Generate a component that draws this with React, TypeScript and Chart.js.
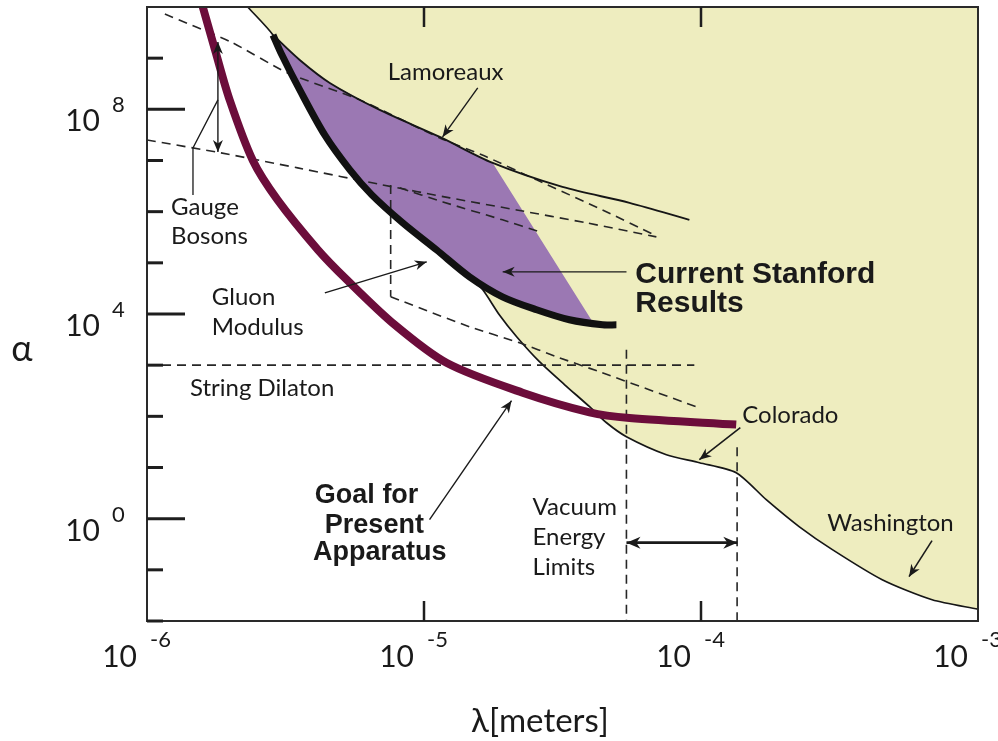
import React, { useEffect, useRef } from 'react';
import { Chart, registerables } from 'chart.js';

Chart.register(...registerables);

// ---------------- data (λ in metres, α dimensionless) ----------------
// Goal for present apparatus (maroon)
const goalLambda = [1.59e-6, 1.76e-6, 1.99e-6, 2.41e-6, 2.96e-6, 4.14e-6, 5.26e-6, 7.83e-6, 1.21e-5, 2.27e-5, 3.96e-5, 5.52e-5, 1.34e-4];
const goalAlpha = [1e10, 1.45e9, 1.5e8, 1.0e7, 1.7e6, 1.8e5, 4.7e4, 6.2e3, 1.1e3, 290, 120, 93, 69];

// Current Stanford results (thick black lower edge)
const stanfordLambda = [2.85e-6, 3.07e-6, 3.56e-6, 4.38e-6, 5.4e-6, 6.48e-6, 8.38e-6, 1.11e-5, 1.46e-5, 1.92e-5, 2.55e-5, 3.35e-5, 4.41e-5, 4.95e-5];
const stanfordAlpha = [2.84e9, 1.15e9, 2.39e8, 3.16e7, 6.55e6, 2.13e6, 6.04e5, 1.79e5, 5.33e4, 2.17e4, 1.21e4, 7.71e3, 6.15e3, 6.15e3];

// Upper edge of the Stanford region (Lamoreaux, then the right edge)
const stanfordTopLambda = [2.85e-6, 3.56e-6, 4.57e-6, 6.92e-6, 1.14e-5, 1.77e-5, 4.06e-5];
const stanfordTopAlpha = [2.84e9, 9.22e8, 3.28e8, 9.73e7, 2.89e7, 8.98e6, 7.04e3];

// Lamoreaux limit
const lamoreauxLambda = [2.85e-6, 3.56e-6, 4.57e-6, 6.92e-6, 1.14e-5, 1.77e-5, 3.16e-5, 5.52e-5, 9.08e-5];
const lamoreauxAlpha = [2.84e9, 9.22e8, 3.28e8, 9.73e7, 2.89e7, 8.98e6, 3.05e6, 1.49e6, 6.92e5];

// Excluded region boundary (Lamoreaux / Stanford / Colorado / Washington)
const excludedLambda = [2.31e-6, 2.85e-6, 3.07e-6, 3.56e-6, 4.38e-6, 5.4e-6, 6.48e-6, 8.38e-6, 1.11e-5, 1.46e-5, 1.63e-5, 1.87e-5, 2.16e-5, 2.61e-5, 3.22e-5, 3.96e-5, 4.56e-5, 5.38e-5, 7.5e-5, 9.87e-5, 1.34e-4, 1.72e-4, 2.26e-4, 2.98e-4, 4.51e-4, 6.83e-4, 1e-3];
const excludedAlpha = [1e10, 2.84e9, 1.15e9, 2.39e8, 3.16e7, 6.55e6, 2.13e6, 6.04e5, 1.79e5, 5.33e4, 2.97e4, 9.65e3, 3.59e3, 1.17e3, 414, 154, 75, 40, 17.8, 12.4, 7.9, 2.35, 0.7, 0.248, 0.064, 0.026, 0.017];

// Theory lines (dashed)
const dilatonLambda = [1e-6, 9.46e-5];
const dilatonAlpha = [1e3, 1e3];
const vacuumLowLambda = [5.38e-5, 5.38e-5];
const vacuumLowAlpha = [2.0e3, 1e-2];
const vacuumHighLambda = [1.35e-4, 1.35e-4];
const vacuumHighAlpha = [25, 1e-2];
const gluonEdgeLambda = [7.58e-6, 7.58e-6];
const gluonEdgeAlpha = [3.33e6, 2.17e4];
const gluonLowLambda = [7.58e-6, 1.46e-5, 2.21e-5, 3.01e-5, 4.3e-5, 9.62e-5];
const gluonLowAlpha = [2.17e4, 5.62e3, 2.74e3, 1.46e3, 743, 154];
const gluonHighLambda = [8.17e-6, 1.17e-5, 1.92e-5, 2.68e-5];
const gluonHighAlpha = [2.92e6, 1.55e6, 6.92e5, 3.85e5];
const gaugeLowLambda = [1e-6, 1.85e-6, 3.5e-6, 7.1e-6, 1.24e-5, 2.16e-5, 3.86e-5, 6.9e-5];
const gaugeLowAlpha = [2.52e7, 1.41e7, 7.17e6, 3.33e6, 1.86e6, 1.08e6, 6.04e5, 3.22e5];
const gaugeHighLambda = [1.16e-6, 2.01e-6, 3.22e-6, 5.86e-6, 1.14e-5, 1.68e-5, 2.55e-5, 4.41e-5, 6.79e-5];
const gaugeHighAlpha = [7.3e9, 2.07e9, 5.14e8, 1.53e8, 2.76e7, 1.18e7, 4.18e6, 1.08e6, 3.52e5];

// Axis ticks (decade exponents)
const yTickExponents = [-2, -1, 0, 1, 2, 3, 4, 5, 6, 7, 8, 9];
const yLabelExponents = [0, 4, 8];
const xLabelExponents = [-6, -5, -4, -3];
const xInnerTickExponents = [-5, -4];

// Annotations, anchored in log10(λ), log10(α)
const REG = '24px Lato, "Liberation Sans", sans-serif';
const BOLD_BIG = 'bold 30px "Liberation Sans", Arial, sans-serif';
const BOLD_MID = 'bold 27px "Liberation Sans", Arial, sans-serif';
const textLabels = [
  { text: 'Lamoreaux', at: [-5.131, 8.574], font: REG },
  { text: 'Gauge', at: [-5.913, 5.9375], font: REG },
  { text: 'Bosons', at: [-5.913, 5.371], font: REG },
  { text: 'Gluon', at: [-5.766, 4.18], font: REG },
  { text: 'Modulus', at: [-5.766, 3.594], font: REG },
  { text: 'String Dilaton', at: [-5.845, 2.402], font: REG },
  { text: 'Current Stanford', at: [-4.237, 4.609], font: BOLD_BIG },
  { text: 'Results', at: [-4.237, 4.043], font: BOLD_BIG },
  { text: 'Goal for', at: [-5.394, 0.3125], font: BOLD_MID },
  { text: 'Present', at: [-5.358, -0.273], font: BOLD_MID },
  { text: 'Apparatus', at: [-5.401, -0.801], font: BOLD_MID },
  { text: 'Vacuum', at: [-4.608, 0.078], font: REG },
  { text: 'Energy', at: [-4.608, -0.508], font: REG },
  { text: 'Limits', at: [-4.608, -1.094], font: REG },
  { text: 'Colorado', at: [-3.851, 1.875], font: REG },
  { text: 'Washington', at: [-3.544, -0.234], font: REG },
];
const arrows = [
  { from: [-4.806, 8.418], to: [-4.933, 7.461], both: false, width: 1.4 },
  { from: [-5.358, 4.414], to: [-4.99, 5.02], both: false, width: 1.4 },
  { from: [-4.269, 4.824], to: [-4.716, 4.824], both: false, width: 1.4 },
  { from: [-4.98, -0.0195], to: [-4.684, 2.305], both: false, width: 1.4 },
  { from: [-3.858, 1.777], to: [-4.006, 1.152], both: false, width: 1.6 },
  { from: [-3.166, -0.43], to: [-3.249, -1.133], both: false, width: 1.6 },
  { from: [-4.269, -0.469], to: [-3.869, -0.469], both: true, width: 2.6 },
  { from: [-5.744, 8.184], to: [-5.744, 7.168], both: false, width: 1.4 },
  { from: [-5.744, 8.184], to: [-5.744, 9.316], both: false, width: 1.4 },
];
const gaugeConnector = [[-5.834, 6.328], [-5.834, 7.246], [-5.744, 8.184]];

// ---------------- helpers ----------------
const toPoints = (xs: number[], ys: number[]) => xs.map((x, i) => ({ x, y: ys[i] }));

const lineSet = (xs: number[], ys: number[], extra: any) => ({
  data: toPoints(xs, ys),
  pointRadius: 0,
  pointHoverRadius: 0,
  borderColor: '#161616',
  borderWidth: 1.6,
  fill: false,
  tension: 0,
  clip: 0,
  ...extra,
});

const DASH = { borderDash: [9, 6], borderWidth: 1.6, borderColor: '#262626', order: 8 };

const overlayPlugin = {
  id: 'overlay',
  afterDatasetsDraw(chart: any) {
    const ctx = chart.ctx as CanvasRenderingContext2D;
    const { left, right, top, bottom } = chart.chartArea;
    const xs = chart.scales.x;
    const ys = chart.scales.y;
    const P = (a: number[]) => [xs.getPixelForValue(Math.pow(10, a[0])), ys.getPixelForValue(Math.pow(10, a[1]))];
    const seg = (x1: number, y1: number, x2: number, y2: number) => {
      ctx.beginPath();
      ctx.moveTo(x1, y1);
      ctx.lineTo(x2, y2);
      ctx.stroke();
    };
    const head = (x1: number, y1: number, x2: number, y2: number, len: number, half: number) => {
      const ang = Math.atan2(y2 - y1, x2 - x1);
      ctx.beginPath();
      ctx.moveTo(x2, y2);
      ctx.lineTo(x2 - len * Math.cos(ang) + half * Math.sin(ang), y2 - len * Math.sin(ang) - half * Math.cos(ang));
      ctx.lineTo(x2 - len * 0.7 * Math.cos(ang), y2 - len * 0.7 * Math.sin(ang));
      ctx.lineTo(x2 - len * Math.cos(ang) - half * Math.sin(ang), y2 - len * Math.sin(ang) + half * Math.cos(ang));
      ctx.closePath();
      ctx.fill();
    };

    ctx.save();
    ctx.lineCap = 'butt';
    // frame
    ctx.strokeStyle = '#2a2a2a';
    ctx.lineWidth = 2;
    ctx.strokeRect(left, top, right - left, bottom - top);

    // y ticks
    ctx.strokeStyle = '#1e1e1e';
    ctx.lineWidth = 3;
    yTickExponents.forEach((e) => {
      const y = ys.getPixelForValue(Math.pow(10, e));
      const major = yLabelExponents.indexOf(e) >= 0;
      seg(left, y, left + (major ? 38 : 16), y);
    });
    // x ticks (bottom up, top down)
    ctx.lineWidth = 2.5;
    xInnerTickExponents.forEach((e) => {
      const x = xs.getPixelForValue(Math.pow(10, e));
      seg(x, bottom, x, bottom - 20);
      seg(x, top, x, top + 20);
    });

    // tick labels
    ctx.fillStyle = '#1a1a1a';
    ctx.textBaseline = 'alphabetic';
    const baseFont = '30px Lato, "Liberation Sans", sans-serif';
    const expFont = '22px Lato, "Liberation Sans", sans-serif';
    yLabelExponents.forEach((e) => {
      const y = ys.getPixelForValue(Math.pow(10, e));
      ctx.font = baseFont;
      ctx.textAlign = 'right';
      ctx.fillText('10', left - 47, y + 22);
      ctx.font = expFont;
      ctx.textAlign = 'left';
      ctx.fillText(String(e), left - 35, y + 3);
    });
    xLabelExponents.forEach((e) => {
      const x = xs.getPixelForValue(Math.pow(10, e));
      ctx.font = baseFont;
      ctx.textAlign = 'right';
      ctx.fillText('10', x - 10, bottom + 46);
      ctx.font = expFont;
      ctx.textAlign = 'left';
      ctx.fillText(String(e), x + 3, bottom + 26);
    });

    // axis titles
    ctx.font = '33px Lato, "Noto Sans", "DejaVu Sans", sans-serif';
    ctx.textAlign = 'center';
    ctx.fillText('λ[meters]', left + 393, bottom + 111);
    ctx.font = '36px Lato, "Noto Sans", "DejaVu Sans", sans-serif';
    ctx.fillText('α', 22, ys.getPixelForValue(1e3) - 4);

    // annotation texts
    ctx.textAlign = 'left';
    textLabels.forEach((t) => {
      const [x, y] = P(t.at);
      ctx.font = t.font;
      ctx.fillText(t.text, x, y);
    });

    // arrows
    ctx.strokeStyle = '#1a1a1a';
    arrows.forEach((a) => {
      const [x1, y1] = P(a.from);
      const [x2, y2] = P(a.to);
      ctx.lineWidth = a.width;
      const big = a.width > 2;
      seg(x1, y1, x2, y2);
      head(x1, y1, x2, y2, big ? 14 : 12, big ? 6 : 5);
      if (a.both) head(x2, y2, x1, y1, big ? 14 : 12, big ? 6 : 5);
    });
    // gauge bosons connector
    ctx.lineWidth = 1.3;
    ctx.beginPath();
    gaugeConnector.forEach((pt, i) => {
      const [x, y] = P(pt);
      if (i === 0) ctx.moveTo(x, y);
      else ctx.lineTo(x, y);
    });
    ctx.stroke();

    ctx.restore();
  },
};

export default function App() {
  const canvasRef = useRef<HTMLCanvasElement | null>(null);

  useEffect(() => {
    const canvas = canvasRef.current;
    if (!canvas) return;
    const chart = new Chart(canvas, {
      type: 'line',
      data: {
        datasets: [
          lineSet(excludedLambda, excludedAlpha, {
            label: 'Excluded region',
            fill: 'end',
            backgroundColor: '#eeedbf',
            borderWidth: 1.7,
            tension: 0.25,
            order: 20,
          }),
          lineSet(stanfordTopLambda, stanfordTopAlpha, {
            label: 'Current Stanford Results',
            fill: 2,
            backgroundColor: '#9b78b3',
            borderColor: 'rgba(0,0,0,0)',
            borderWidth: 0,
            order: 19,
          }),
          lineSet(stanfordLambda, stanfordAlpha, {
            label: 'Stanford limit',
            borderColor: '#111111',
            borderWidth: 7,
            tension: 0.3,
            order: 2,
          }),
          lineSet(lamoreauxLambda, lamoreauxAlpha, {
            label: 'Lamoreaux',
            borderWidth: 1.9,
            tension: 0.3,
            order: 5,
          }),
          lineSet(dilatonLambda, dilatonAlpha, { label: 'String Dilaton', ...DASH }),
          lineSet(vacuumLowLambda, vacuumLowAlpha, { label: 'Vacuum energy low', ...DASH }),
          lineSet(vacuumHighLambda, vacuumHighAlpha, { label: 'Vacuum energy high', ...DASH }),
          lineSet(gluonEdgeLambda, gluonEdgeAlpha, { label: 'Gluon modulus edge', ...DASH }),
          lineSet(gluonLowLambda, gluonLowAlpha, { label: 'Gluon modulus low', ...DASH, tension: 0.2 }),
          lineSet(gluonHighLambda, gluonHighAlpha, { label: 'Gluon modulus high', ...DASH, tension: 0.2 }),
          lineSet(gaugeLowLambda, gaugeLowAlpha, { label: 'Gauge bosons low', ...DASH, tension: 0.2 }),
          lineSet(gaugeHighLambda, gaugeHighAlpha, { label: 'Gauge bosons high', ...DASH, tension: 0.2 }),
          lineSet(goalLambda, goalAlpha, {
            label: 'Goal for Present Apparatus',
            borderColor: '#6c0d3b',
            borderWidth: 8,
            tension: 0.3,
            order: 1,
          }),
        ],
      },
      options: {
        responsive: false,
        animation: false,
        events: [],
        layout: { padding: { left: 147, right: 20, top: 7, bottom: 120 } },
        scales: {
          x: { type: 'logarithmic', min: 1e-6, max: 1e-3, display: false },
          y: { type: 'logarithmic', min: 1e-2, max: 1e10, display: false },
        },
        plugins: {
          legend: { display: false },
          tooltip: { enabled: false },
          title: { display: false },
        },
      },
      plugins: [overlayPlugin],
    } as any);
    return () => chart.destroy();
  }, []);

  return (
    <div style={{ position: 'fixed', left: 0, top: 0, width: 998, height: 741, background: '#ffffff' }}>
      <canvas ref={canvasRef} width={998} height={741} style={{ display: 'block' }} />
    </div>
  );
}
